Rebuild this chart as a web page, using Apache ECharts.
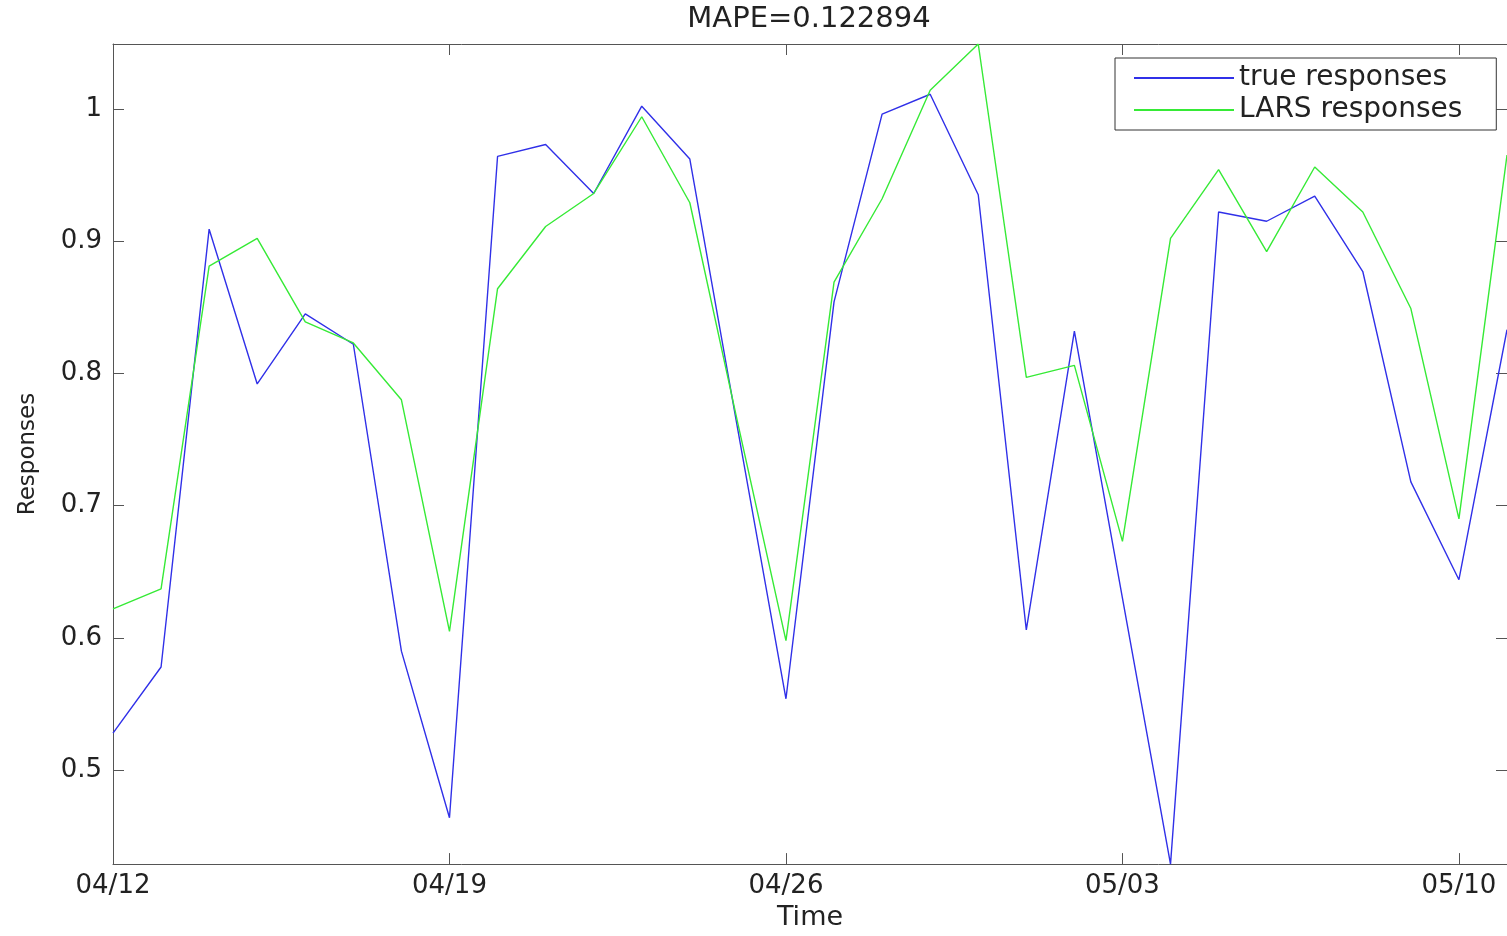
<!DOCTYPE html>
<html>
<head>
<meta charset="utf-8">
<title>MAPE=0.122894</title>
<script src="https://cdn.jsdelivr.net/npm/echarts@6/dist/echarts.min.js"></script>
<style>
  html, body { margin: 0; padding: 0; background: #ffffff; }
  #chart { width: 1507px; height: 936px; }
</style>
</head>
<body>
<div id="chart"></div>
<script>
// Daily dates on the time axis
const days = [
  '04/12','04/13','04/14','04/15','04/16','04/17','04/18','04/19','04/20','04/21',
  '04/22','04/23','04/24','04/25','04/26','04/27','04/28','04/29','04/30','05/01',
  '05/02','05/03','05/04','05/05','05/06','05/07','05/08','05/09','05/10','05/11'
];

// Observed responses
const trueResponses = [
  0.528, 0.578, 0.909, 0.792, 0.845, 0.822, 0.590, 0.464, 0.964, 0.973,
  0.936, 1.002, 0.962, 0.757, 0.554, 0.854, 0.996, 1.011, 0.935, 0.606,
  0.832, 0.630, 0.429, 0.922, 0.915, 0.934, 0.877, 0.718, 0.644, 0.833
];

// LARS model responses
const larsResponses = [
  0.622, 0.637, 0.881, 0.902, 0.839, 0.823, 0.780, 0.605, 0.864, 0.911,
  0.936, 0.994, 0.929, 0.762, 0.598, 0.869, 0.932, 1.014, 1.049, 0.797,
  0.806, 0.673, 0.902, 0.954, 0.892, 0.956, 0.922, 0.849, 0.690, 0.965
];

// Y tick positions
const yTicks = [0.5, 0.6, 0.7, 0.8, 0.9, 1.0];

const titleText = 'MAPE=0.122894';
const seriesNames = ['true responses', 'LARS responses'];

// Tight y-range around all values
const allValues = trueResponses.concat(larsResponses);
const yMin = Math.min.apply(null, allValues);
const yMax = Math.max.apply(null, allValues);

const FONT = 'DejaVu Sans';
const AXIS_COLOR = '#555555';
const TEXT_COLOR = '#222222';
const BLUE = '#3030e8';
const GREEN = '#36ea36';

const chart = echarts.init(document.getElementById('chart'), null, { renderer: 'canvas' });

const tickStyle = { show: true, inside: true, length: 11, lineStyle: { color: AXIS_COLOR, width: 1 } };
const lineAxis = { show: true, onZero: false, lineStyle: { color: AXIS_COLOR, width: 1 } };

chart.setOption({
  backgroundColor: '#ffffff',
  animation: false,
  title: {
    text: titleText,
    left: 809,
    textAlign: 'center',
    top: 5,
    padding: 0,
    textStyle: { fontFamily: FONT, fontSize: 29, fontWeight: 'normal', color: TEXT_COLOR }
  },
  legend: {
    orient: 'vertical',
    left: 1115,
    top: 58,
    padding: [6, 34, 6, 18],
    itemGap: 4,
    itemWidth: 100,
    itemHeight: 14,
    borderColor: '#333333',
    borderWidth: 1,
    backgroundColor: '#ffffff',
    itemStyle: { opacity: 0 },
    data: seriesNames,
    textStyle: { fontFamily: FONT, fontSize: 28, color: TEXT_COLOR }
  },
  grid: {
    left: 113,
    top: 44,
    width: 1396,
    height: 826,
    containLabel: false
  },
  xAxis: [
    {
      type: 'category',
      data: days,
      boundaryGap: false,
      name: 'Time',
      nameLocation: 'middle',
      nameGap: 36,
      nameTextStyle: { fontFamily: FONT, fontSize: 27, color: TEXT_COLOR },
      axisLine: lineAxis,
      axisTick: Object.assign({}, tickStyle, { interval: 6 }),
      axisLabel: {
        interval: 6,
        margin: 9,
        fontFamily: FONT,
        fontSize: 26,
        color: TEXT_COLOR
      },
      splitLine: { show: false }
    },
    {
      type: 'category',
      data: days,
      boundaryGap: false,
      position: 'top',
      axisLine: lineAxis,
      axisTick: Object.assign({}, tickStyle, { interval: 6 }),
      axisLabel: { show: false },
      splitLine: { show: false }
    }
  ],
  yAxis: [
    {
      type: 'value',
      min: yMin,
      max: yMax,
      name: 'Responses',
      nameLocation: 'middle',
      nameRotate: 90,
      nameGap: 73,
      nameTextStyle: { fontFamily: FONT, fontSize: 23, color: TEXT_COLOR },
      axisLine: lineAxis,
      axisTick: Object.assign({}, tickStyle, { customValues: yTicks }),
      axisLabel: {
        customValues: yTicks,
        margin: 11,
        fontFamily: FONT,
        fontSize: 26,
        color: TEXT_COLOR,
        formatter: function (v) { return String(Math.round(v * 10) / 10); }
      },
      splitLine: { show: false }
    },
    {
      type: 'value',
      min: yMin,
      max: yMax,
      position: 'right',
      axisLine: lineAxis,
      axisTick: Object.assign({}, tickStyle, { customValues: yTicks }),
      axisLabel: { show: false, customValues: yTicks },
      splitLine: { show: false }
    }
  ],
  series: [
    {
      name: seriesNames[0],
      type: 'line',
      data: trueResponses,
      symbol: 'none',
      lineStyle: { color: BLUE, width: 1.4 },
      itemStyle: { color: BLUE }
    },
    {
      name: seriesNames[1],
      type: 'line',
      data: larsResponses,
      symbol: 'none',
      lineStyle: { color: GREEN, width: 1.4 },
      itemStyle: { color: GREEN }
    }
  ]
});
</script>
</body>
</html>
